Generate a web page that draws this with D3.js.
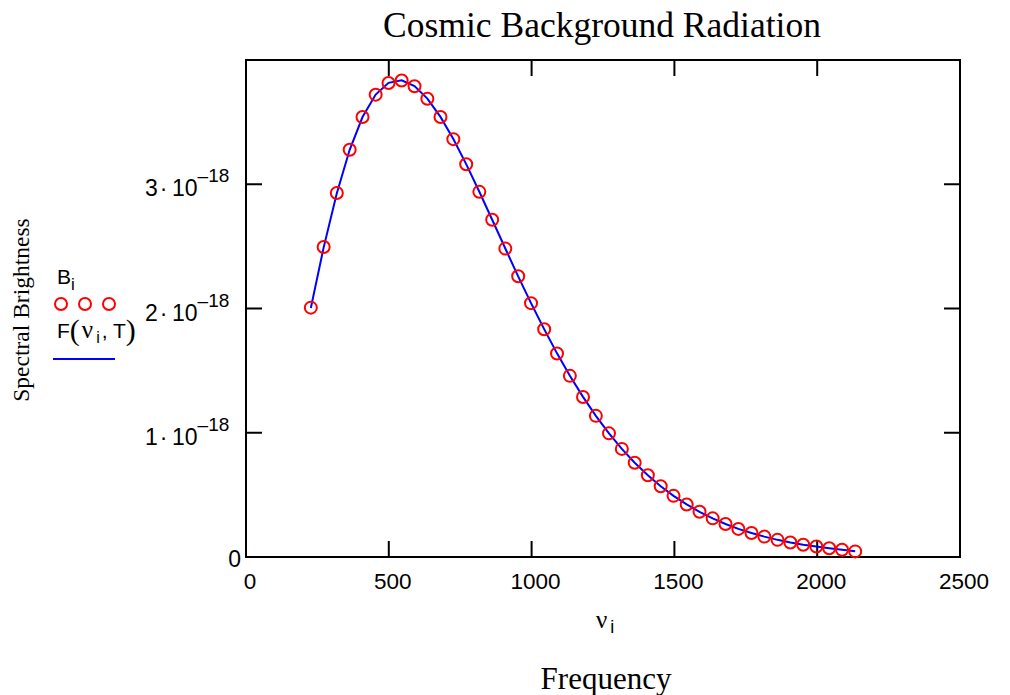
<!DOCTYPE html>
<html>
<head>
<meta charset="utf-8">
<script src="https://cdn.jsdelivr.net/npm/d3@7"></script>
<style>
  body { margin: 0; background: #fff; }
  svg { display: block; }
</style>
</head>
<body>
<svg id="chart" width="1010" height="695"></svg>
<script>
// frequencies nu_i (per metre)
const nu = [227, 272, 318, 363, 408, 454, 499, 545, 590, 635, 681, 726, 771, 817, 862, 908, 953, 998,
  1044, 1089, 1134, 1180, 1225, 1271, 1316, 1361, 1407, 1452, 1497, 1543, 1588, 1634, 1679, 1724,
  1770, 1815, 1861, 1906, 1951, 1997, 2042, 2087, 2133];
// measured brightness B_i, units of 1e-18
const brightness = [2.007, 2.495, 2.930, 3.278, 3.541, 3.721, 3.815, 3.835, 3.789, 3.688, 3.541, 3.363,
  3.161, 2.939, 2.714, 2.482, 2.259, 2.043, 1.833, 1.638, 1.458, 1.288, 1.136, 0.995, 0.870, 0.759,
  0.658, 0.570, 0.492, 0.423, 0.364, 0.311, 0.266, 0.226, 0.193, 0.164, 0.138, 0.117, 0.099, 0.084,
  0.071, 0.058, 0.045];
// fitted curve F(nu_i, T), units of 1e-18
const fitted = [2.004, 2.492, 2.928, 3.277, 3.541, 3.722, 3.816, 3.836, 3.790, 3.689, 3.542, 3.364,
  3.162, 2.940, 2.714, 2.483, 2.259, 2.043, 1.834, 1.639, 1.458, 1.289, 1.136, 0.995, 0.870, 0.759,
  0.658, 0.570, 0.492, 0.423, 0.364, 0.311, 0.266, 0.226, 0.193, 0.164, 0.138, 0.117, 0.099, 0.084,
  0.071, 0.058, 0.047];
const xTicks = [0, 500, 1000, 1500, 2000, 2500];
const yTicks = [1, 2, 3];  // multiples of 1e-18

const svg = d3.select("#chart");
const plotL = 246, plotR = 960, plotT = 60, plotB = 557;

const x = d3.scaleLinear().domain([0, 2500]).range([plotL, plotR]);
const y = d3.scaleLinear().domain([0, 4]).range([plotB, plotT]);

const sans = "Liberation Sans, Arial, sans-serif";
const serif = "Liberation Serif, Times New Roman, serif";

// inward ticks on all four sides
const tickLen = 16;
const axes = svg.append("g").attr("stroke", "black").attr("stroke-width", 2);
xTicks.slice(1, -1).forEach(t => {
  axes.append("line").attr("x1", x(t)).attr("x2", x(t)).attr("y1", plotB).attr("y2", plotB - tickLen);
  axes.append("line").attr("x1", x(t)).attr("x2", x(t)).attr("y1", plotT).attr("y2", plotT + tickLen);
});
yTicks.forEach(t => {
  axes.append("line").attr("x1", plotL).attr("x2", plotL + tickLen).attr("y1", y(t)).attr("y2", y(t));
  axes.append("line").attr("x1", plotR).attr("x2", plotR - tickLen).attr("y1", y(t)).attr("y2", y(t));
});
axes.append("rect")
  .attr("x", plotL).attr("y", plotT)
  .attr("width", plotR - plotL).attr("height", plotB - plotT)
  .attr("fill", "none");

// x tick labels
svg.append("g").selectAll("text")
  .data(xTicks).enter().append("text")
  .attr("x", d => x(d) + 4)
  .attr("y", plotB + 32)
  .attr("text-anchor", "middle")
  .attr("font-family", sans).attr("font-size", 22.5)
  .text(d => d);

// y tick labels  n·10^-18
const yl = svg.append("g").attr("font-family", sans).attr("font-size", 23);
yTicks.forEach(t => {
  const txt = yl.append("text")
    .attr("x", 145).attr("y", y(t) + 12);
  txt.append("tspan").text(t + "\u200a\u00b7\u200910");
  txt.append("tspan").attr("dy", -14).attr("font-size", 19).text("\u2012" + "18");
});
yl.append("text").attr("x", 241).attr("y", plotB + 10)
  .attr("text-anchor", "end").text("0");

// fitted curve
const line = d3.line()
  .x((d, i) => x(nu[i]))
  .y(d => y(d));
svg.append("path")
  .datum(fitted)
  .attr("d", line)
  .attr("fill", "none")
  .attr("stroke", "#0000ff")
  .attr("stroke-width", 2);

// measured points
svg.append("g").selectAll("circle")
  .data(brightness).enter().append("circle")
  .attr("cx", (d, i) => x(nu[i]))
  .attr("cy", d => y(d))
  .attr("r", 6)
  .attr("fill", "none")
  .attr("stroke", "#ff0000")
  .attr("stroke-width", 2);

// title and axis titles
svg.append("text")
  .attr("x", 602).attr("y", 37)
  .attr("text-anchor", "middle")
  .attr("font-family", serif).attr("font-size", 35.5)
  .text("Cosmic Background Radiation");

svg.append("text")
  .attr("x", 606).attr("y", 689)
  .attr("text-anchor", "middle")
  .attr("font-family", serif).attr("font-size", 31)
  .text("Frequency");

const nuLabel = svg.append("text")
  .attr("x", 596).attr("y", 628)
  .attr("font-family", serif).attr("font-size", 25);
nuLabel.append("tspan").text("\u03bd");
nuLabel.append("tspan").attr("dx", 3).attr("dy", 5).attr("font-size", 18).attr("font-family", sans).text("i");

svg.append("text")
  .attr("transform", "translate(29,310) rotate(-90)")
  .attr("text-anchor", "middle")
  .attr("font-family", serif).attr("font-size", 23.5)
  .text("Spectral Brightness");

// legend
const lg = svg.append("g");
const bl = lg.append("text").attr("x", 57).attr("y", 284)
  .attr("font-family", sans).attr("font-size", 21);
bl.append("tspan").text("B");
bl.append("tspan").attr("dy", 6).attr("font-size", 17).text("i");
lg.selectAll("circle").data([61, 85, 109]).enter().append("circle")
  .attr("cx", d => d).attr("cy", 304).attr("r", 6)
  .attr("fill", "none").attr("stroke", "#ff0000").attr("stroke-width", 2);
const fl = lg.append("text").attr("x", 57).attr("y", 338)
  .attr("font-family", sans).attr("font-size", 21);
fl.append("tspan").text("F");
fl.append("tspan").attr("font-family", serif).attr("font-size", 30).attr("dy", 2).text("(");
fl.append("tspan").attr("font-family", serif).attr("font-size", 25).attr("dy", -2).attr("dx", 2).text("\u03bd");
fl.append("tspan").attr("font-size", 16).attr("dy", 5).attr("dx", 3).text("i");
fl.append("tspan").attr("dy", -5).attr("dx", 2).text(", T");
fl.append("tspan").attr("font-family", serif).attr("font-size", 30).attr("dy", 2).text(")");
lg.append("line").attr("x1", 53).attr("x2", 115).attr("y1", 359).attr("y2", 359)
  .attr("stroke", "#0000ff").attr("stroke-width", 2);
</script>
</body>
</html>
